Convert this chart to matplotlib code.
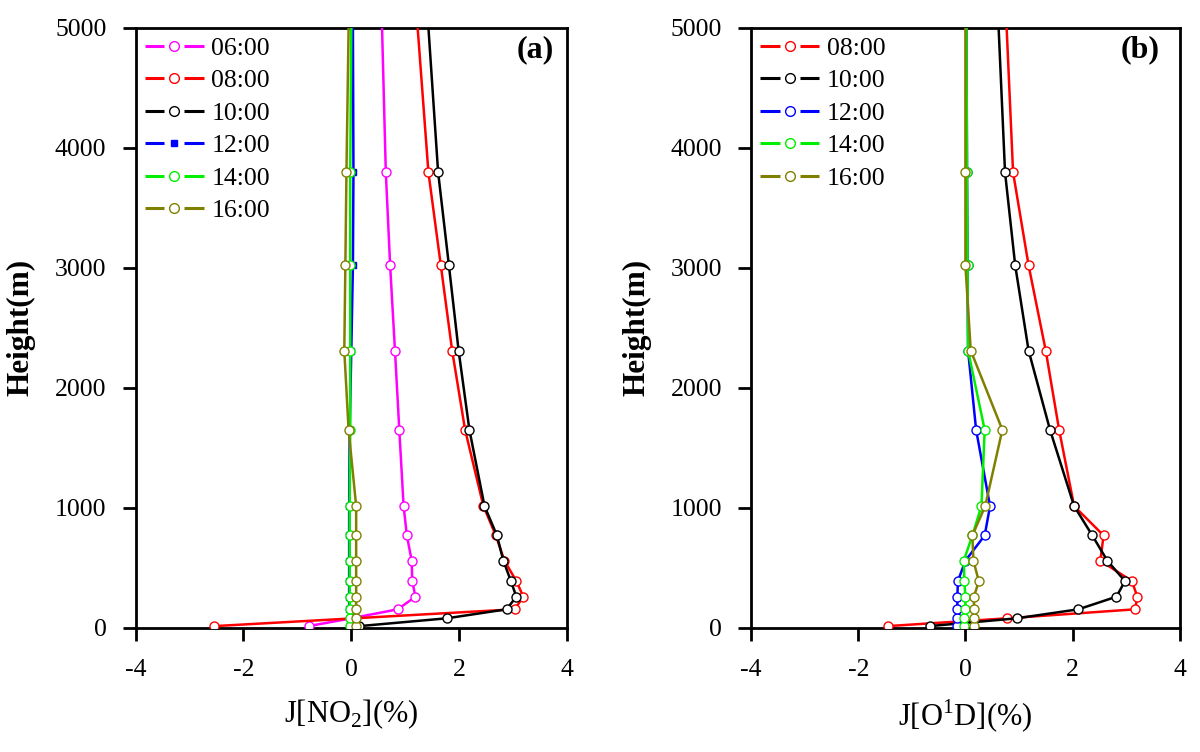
import matplotlib
matplotlib.use("Agg")
import matplotlib.pyplot as plt
from matplotlib.lines import Line2D
from matplotlib.legend_handler import HandlerBase

plt.rcParams['font.family'] = ['Liberation Serif', 'DejaVu Serif']
plt.rcParams['mathtext.fontset'] = 'custom'
plt.rcParams['mathtext.rm'] = 'Liberation Serif'

# ---------------- data ----------------
heights = [15, 80, 155, 260, 390, 560, 770, 1015, 1650, 2310, 3020, 3795, 5000]

# Panel (a): J[NO2] change (%)
a_labels = ["06:00", "08:00", "10:00", "12:00", "14:00", "16:00"]
a_0600 = [-0.79, 0.00, 0.86, 1.19, 1.13, 1.12, 1.03, 0.97, 0.89, 0.81, 0.72, 0.64, 0.57]
a_0800 = [-2.54, 0.05, 3.03, 3.19, 3.06, 2.84, 2.68, 2.45, 2.11, 1.87, 1.66, 1.43, 1.23]
a_1000 = [0.15, 1.77, 2.88, 3.06, 2.96, 2.82, 2.70, 2.47, 2.19, 1.99, 1.81, 1.61, 1.43]
a_1200 = [-0.03, -0.03, -0.04, -0.04, -0.04, -0.04, -0.04, -0.04, -0.03, 0.00, 0.03, 0.04, 0.03]
a_1400 = [-0.03, -0.03, -0.03, -0.03, -0.03, -0.03, -0.03, -0.03, -0.02, -0.02, -0.02, -0.02, 0.00]
a_1600 = [0.09, 0.09, 0.09, 0.09, 0.09, 0.09, 0.09, 0.09, -0.05, -0.13, -0.11, -0.09, -0.05]

# Panel (b): J[O1D] change (%)
b_labels = ["08:00", "10:00", "12:00", "14:00", "16:00"]
b_0800 = [-1.45, 0.78, 3.17, 3.21, 3.11, 2.52, 2.58, 2.03, 1.75, 1.50, 1.18, 0.89, 0.77]
b_1000 = [-0.67, 0.96, 2.11, 2.82, 2.98, 2.65, 2.37, 2.03, 1.58, 1.18, 0.93, 0.74, 0.62]
b_1200 = [-0.16, -0.15, -0.15, -0.15, -0.14, 0.00, 0.36, 0.46, 0.20, 0.05, 0.04, 0.03, 0.02]
b_1400 = [-0.02, -0.02, 0.00, 0.00, -0.02, -0.03, 0.13, 0.30, 0.36, 0.05, 0.04, 0.03, 0.02]
b_1600 = [0.16, 0.16, 0.16, 0.16, 0.25, 0.15, 0.13, 0.37, 0.69, 0.10, 0.00, 0.00, 0.00]

xticks = [-4, -2, 0, 2, 4]
yticks = [0, 1000, 2000, 3000, 4000, 5000]

C = {"06:00": "#ff00ff", "08:00": "#ff0000", "10:00": "#000000",
     "12:00": "#0000ff", "14:00": "#00ee00", "16:00": "#808000"}

fig = plt.figure(figsize=(12, 7.52), dpi=100)
axA = fig.add_axes([0.113, 0.165, 0.3595, 0.7983])
axB = fig.add_axes([0.626, 0.165, 0.357, 0.7983])

LW = 1.8
MS = 6.5


class GapLineHandler(HandlerBase):
    """Origin-style legend key: line - marker - line, with gaps."""

    def create_artists(self, legend, orig_handle, xdescent, ydescent,
                       width, height, fontsize, trans):
        c = orig_handle.get_color()
        y = height / 2.0 - ydescent
        x0 = -xdescent
        x1 = x0 + width
        xm = x0 + width / 2.0
        g = 0.17 * width
        kw = dict(color=c, lw=2.2, solid_capstyle='butt', transform=trans)
        l1 = Line2D([x0, xm - g], [y, y], **kw)
        l2 = Line2D([xm + g, x1], [y, y], **kw)
        m = Line2D([xm], [y], ls='none', marker=orig_handle.get_marker(),
                   ms=orig_handle.get_markersize() + 0.5,
                   mfc=orig_handle.get_markerfacecolor(),
                   mec=orig_handle.get_markeredgecolor(), mew=1.0,
                   transform=trans)
        return [l1, l2, m]


def draw(ax, series, labels, square_label=None):
    handles = []
    for lab, vals in zip(labels, series):
        c = C[lab]
        if lab == square_label:
            mk, mfc, ms = 's', c, 4
        else:
            mk, mfc, ms = 'o', 'white', MS
        ln, = ax.plot(vals, heights, color=c, lw=LW, marker=mk, ms=ms,
                      mfc=mfc, mec=c, mew=1.0,
                      markevery=slice(0, len(heights) - 1), zorder=3)
        handles.append(ln)
    ax.legend(handles, labels, loc='upper left',
              handler_map={Line2D: GapLineHandler()},
              frameon=False, fontsize=18.5, handlelength=2.3,
              handletextpad=0.3, labelspacing=0.37,
              borderaxespad=0.05, borderpad=0.3)


draw(axA, [a_0600, a_0800, a_1000, a_1200, a_1400, a_1600], a_labels,
     square_label="12:00")
draw(axB, [b_0800, b_1000, b_1200, b_1400, b_1600], b_labels)

for ax, tag, xl, tx in [(axA, "(a)", r"J[NO$_2$](%)", 0.926),
                        (axB, "(b)", r"J[O$^1$D](%)", 0.907)]:
    ax.set_xlim(-4, 4)
    ax.set_ylim(0, 5000)
    ax.set_xticks(xticks)
    ax.set_yticks(yticks)
    ax.set_xticklabels([str(t) for t in xticks])
    ax.tick_params(axis='both', which='major', direction='out', length=9.5,
                   width=2.0, labelsize=18.5, top=False, right=False)
    ax.tick_params(axis='x', pad=13)
    ax.tick_params(axis='y', pad=11.5)
    for sp in ax.spines.values():
        sp.set_linewidth(2.0)
    ax.set_ylabel("Height(m)", fontsize=22.5, fontweight='bold', labelpad=14)
    ax.set_xlabel(xl, fontsize=22, labelpad=12)
    ax.text(tx, 0.963, tag, transform=ax.transAxes, fontsize=23,
            fontweight='bold', ha='center', va='center')

fig.savefig("out.png", dpi=100)
